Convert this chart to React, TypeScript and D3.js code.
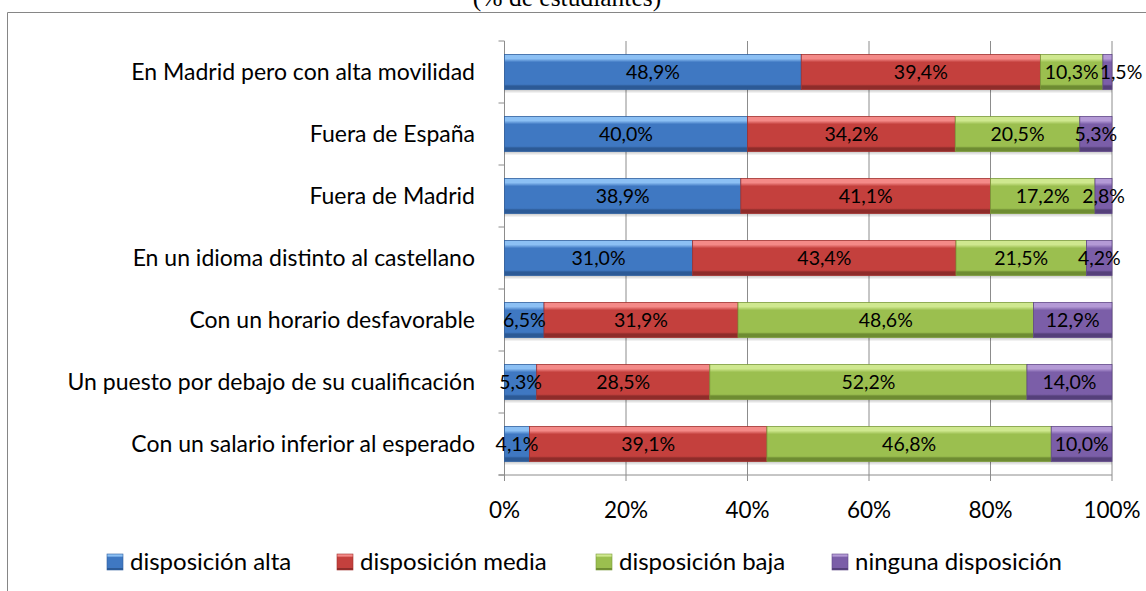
import React from "react";
import * as d3 from "d3";

const categories = [
  "En Madrid pero con alta movilidad",
  "Fuera de España",
  "Fuera de Madrid",
  "En un idioma distinto al castellano",
  "Con un horario desfavorable",
  "Un puesto por debajo de su cualificación",
  "Con un salario inferior al esperado",
];
const seriesNames = ["disposición alta", "disposición media", "disposición baja", "ninguna disposición"];
const alta = [48.9, 40.0, 38.9, 31.0, 6.5, 5.3, 4.1];
const media = [39.4, 34.2, 41.1, 43.4, 31.9, 28.5, 39.1];
const baja = [10.3, 20.5, 17.2, 21.5, 48.6, 52.2, 46.8];
const ninguna = [1.5, 5.3, 2.8, 4.2, 12.9, 14.0, 10.0];
const xTicks = [0, 20, 40, 60, 80, 100];
const title = "(% de estudiantes)";

// [top highlight, main, bottom shade, edge]
const palettes = [
  ["#8cc0f4", "#3f78c2", "#2c5a96", "#2f5f9e"],
  ["#f48a88", "#c4403d", "#8e2c2a", "#a0302d"],
  ["#cfe88f", "#9bbf4f", "#6e8c32", "#7a9a3a"],
  ["#b49ad6", "#7b5ea8", "#55407a", "#604788"],
];

const W = 1146;
const H = 591;
const FONT = "Lato, 'Open Sans', sans-serif";
const LABEL_SIZE = 19.5;

function measure(text: string, size: number): number {
  if (typeof document === "undefined") return text.length * size * 0.5;
  const canvas = document.createElement("canvas");
  const ctx = canvas.getContext("2d");
  if (!ctx) return text.length * size * 0.5;
  ctx.font = `${size}px Lato, 'Open Sans', sans-serif`;
  return ctx.measureText(text).width;
}

export default function App() {
  const series = [alta, media, baja, ninguna];
  const x = d3.scaleLinear().domain([0, 100]).range([504.5, 1112]);
  const y = d3
    .scaleBand()
    .domain(categories)
    .range([41, 475])
    .paddingInner(0.435)
    .paddingOuter(0.2175);
  const step = y.step();
  const bw = y.bandwidth();
  const fmt = (v: number) => v.toFixed(1).replace(".", ",") + "%";

  const rows = categories.map((c, i) => {
    const vals = series.map((s) => s[i]);
    const total = d3.sum(vals);
    let acc = 0;
    let prevRight = -Infinity;
    return vals.map((v, k) => {
      const x0 = (acc / total) * 100;
      acc += v;
      const x1 = (acc / total) * 100;
      const label = fmt(v);
      const w = measure(label, LABEL_SIZE);
      let cx = (x(x0) + x(x1)) / 2;
      if (cx - w / 2 < prevRight + 1) cx = prevRight + 1 + w / 2;
      prevRight = cx + w / 2;
      return { c, v, k, x0, x1, label, cx };
    });
  });

  const legendX = [107, 337, 596, 832];

  return (
    <svg width={W} height={H} style={{ position: "absolute", left: 0, top: 0, background: "#fff" }}>
      <defs>
        {palettes.map((p, k) => (
          <linearGradient key={k} id={`g${k}`} x1="0" y1="0" x2="0" y2="1">
            <stop offset="0" stopColor={p[0]} />
            <stop offset="0.12" stopColor={p[0]} />
            <stop offset="0.22" stopColor={p[1]} />
            <stop offset="0.85" stopColor={p[1]} />
            <stop offset="0.9" stopColor={p[2]} />
            <stop offset="1" stopColor={p[2]} />
          </linearGradient>
        ))}
        <linearGradient id="shadow" x1="0" y1="0" x2="0" y2="1">
          <stop offset="0" stopColor="#000" stopOpacity={0.22} />
          <stop offset="1" stopColor="#000" stopOpacity={0} />
        </linearGradient>
      </defs>
      {/* frame */}
      <path d={`M7.5,${H} L7.5,12.5 L${W},12.5`} fill="none" stroke="#868686" strokeWidth={1} />
      <text x={567} y={6} textAnchor="middle" fontFamily="'Liberation Serif', 'Times New Roman', serif" fontSize={25.5}>
        {title}
      </text>
      {/* gridlines */}
      {xTicks.slice(1).map((t) => (
        <line key={t} x1={x(t)} x2={x(t)} y1={41} y2={481} stroke="#8c8c8c" strokeWidth={1} />
      ))}
      {/* left axis */}
      <line x1={x(0)} x2={x(0)} y1={41} y2={481} stroke="#8c8c8c" />
      {d3.range(categories.length + 1).map((i) => (
        <line key={i} x1={x(0) - 6} x2={x(0)} y1={41 + i * step} y2={41 + i * step} stroke="#8c8c8c" />
      ))}
      {/* bottom axis */}
      <line x1={x(0) - 6} x2={x(100)} y1={475} y2={475} stroke="#8c8c8c" />
      {xTicks.map((t) => (
        <text key={t} x={x(t)} y={518} textAnchor="middle" fontFamily={FONT} fontSize={22.5} fill="#000">
          {t}%
        </text>
      ))}
      {/* category labels */}
      {categories.map((c) => (
        <text key={c} x={475} y={y(c)! + bw / 2 + 7.5} textAnchor="end" fontFamily={FONT} fontSize={23}>
          {c}
        </text>
      ))}
      {/* bars */}
      {rows.map((r, i) => (
        <g key={i}>
          <rect x={x(0)} y={y(r[0].c)! + bw} width={x(100) - x(0)} height={4} fill="url(#shadow)" />
          {r.map((d) => (
            <rect
              key={d.k}
              x={x(d.x0)}
              y={y(d.c)!}
              width={Math.max(0, x(d.x1) - x(d.x0))}
              height={bw}
              fill={`url(#g${d.k})`}
              stroke={palettes[d.k][3]}
              strokeWidth={0.8}
            />
          ))}
          {r.map((d) => (
            <text
              key={"t" + d.k}
              x={d.cx}
              y={y(d.c)! + bw / 2 + 7}
              textAnchor="middle"
              fontFamily={FONT}
              fontSize={LABEL_SIZE}
              fill="#000"
            >
              {d.label}
            </text>
          ))}
        </g>
      ))}
      {/* legend */}
      {seriesNames.map((n, k) => (
        <g key={n}>
          <rect
            x={legendX[k]}
            y={554}
            width={16}
            height={16}
            fill={`url(#g${k})`}
            stroke={palettes[k][3]}
            strokeWidth={0.6}
          />
          <text x={legendX[k] + 23} y={570} fontFamily={FONT} fontSize={24}>
            {n}
          </text>
        </g>
      ))}
    </svg>
  );
}
